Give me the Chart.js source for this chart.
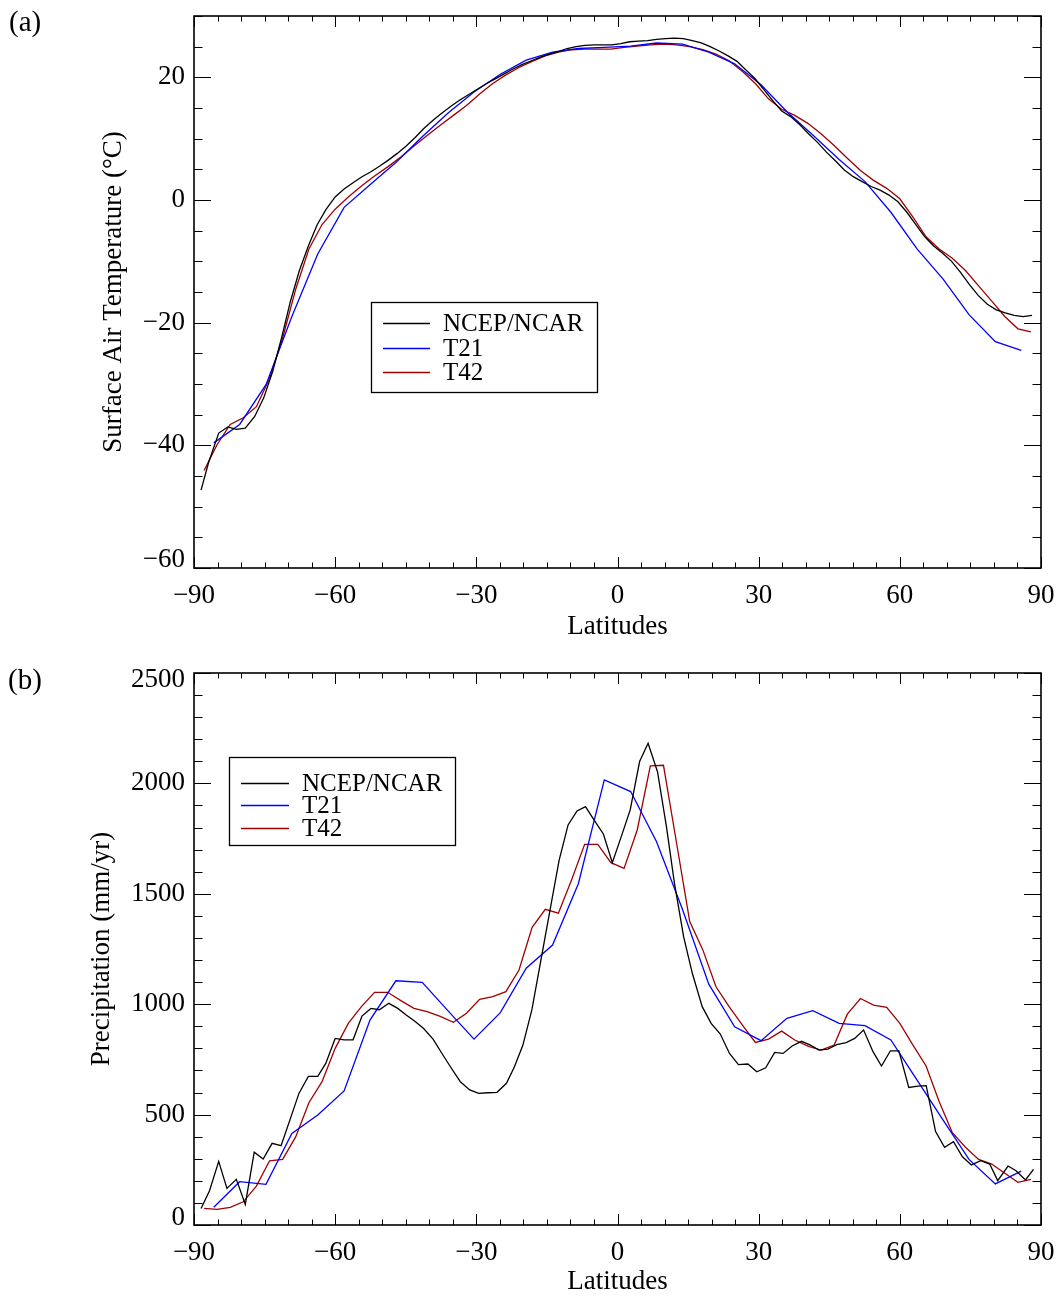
<!DOCTYPE html>
<html><head><meta charset="utf-8">
<script src="https://cdn.jsdelivr.net/npm/chart.js@4.4.0/dist/chart.umd.min.js"></script>
<style>
html,body{margin:0;padding:0;background:#fff;}
#wrap{position:relative;width:1063px;height:1296px;overflow:hidden;}
.cv{position:absolute;left:0;width:1063px;height:648px;}
.lbl{position:absolute;font-family:"Liberation Serif",serif;font-size:29px;line-height:1;color:#000;}
</style></head><body>
<div id="wrap">
<div class="cv" style="top:0"><canvas id="ca" width="1063" height="648"></canvas></div>
<div class="cv" style="top:648px"><canvas id="cb" width="1063" height="648"></canvas></div>
<div class="lbl" style="left:9px;top:7px">(a)</div>
<div class="lbl" style="left:8px;top:665px">(b)</div>
</div>
<script>
// ---------- shared ----------
const seriesNames = ['NCEP/NCAR', 'T21', 'T42'];
const latTicks = [-90, -60, -30, 0, 30, 60, 90];
const tempTicks = [-60, -40, -20, 0, 20];
const precipTicks = [0, 500, 1000, 1500, 2000, 2500];

// ---------- panel (a): surface air temperature ----------
const latNcepA = [-88.5,-86.9,-84.75,-82.8,-81.0,-79.1,-77.1,-75.2,-73.3,-71.4,-69.5,-67.6,-65.7,-63.8,-61.9,-60.0,-58.1,-56.2,-54.3,-52.4,-50.6,-48.7,-46.8,-44.9,-43.0,-41.1,-39.2,-37.3,-35.4,-33.5,-31.6,-29.7,-27.8,-25.9,-24.0,-22.1,-20.2,-18.3,-16.4,-14.5,-12.6,-10.7,-8.8,-6.9,-5.0,-3.1,-1.2,0.7,2.6,4.5,6.4,8.3,10.2,12.1,14.0,15.9,17.8,19.7,21.6,23.5,25.4,27.3,29.2,31.1,33.0,34.9,36.8,38.7,40.6,42.5,44.4,46.3,48.2,50.1,52.0,53.9,55.8,57.7,59.6,61.5,63.4,65.3,67.2,69.1,71.0,72.9,74.8,76.7,78.6,80.5,82.4,84.3,86.2,88.1];
const tempNcep = [-47.3,-42.8,-38.0,-37.0,-37.4,-37.2,-35.3,-32.3,-28.0,-22.5,-16.5,-11.5,-7.5,-4.0,-1.5,0.5,1.8,2.8,3.8,4.6,5.5,6.5,7.6,8.8,10.2,11.7,13.0,14.2,15.3,16.3,17.2,18.1,19.0,19.8,20.6,21.4,22.1,22.7,23.3,23.8,24.2,24.7,25.0,25.2,25.3,25.3,25.3,25.5,25.8,25.9,26.0,26.2,26.3,26.4,26.3,26.0,25.6,25.0,24.3,23.5,22.6,21.2,19.8,18.0,16.2,14.5,13.6,12.3,10.8,9.4,7.8,6.4,4.9,3.8,3.0,2.2,1.6,0.8,-0.3,-2.0,-4.0,-6.0,-7.5,-8.7,-10.0,-11.8,-13.8,-15.6,-17.0,-17.9,-18.4,-18.8,-19.0,-18.8];

const latT21 = [-85.8,-80.3,-74.7,-69.2,-63.7,-58.1,-52.6,-47.1,-41.5,-36.0,-30.5,-24.9,-19.4,-13.8,-8.3,-2.8,2.8,8.3,13.8,19.4,24.9,30.5,36.0,41.5,47.1,52.6,58.1,63.7,69.2,74.7,80.3,85.8];
const tempT21 = [-39.6,-36.6,-30.1,-19.0,-8.8,-1.2,2.5,6.1,10.3,14.2,17.6,20.5,22.8,24.1,24.7,24.9,25.1,25.6,25.4,24.1,22.2,18.8,14.4,10.6,6.6,3.0,-2.0,-8.0,-12.9,-18.7,-23.1,-24.5];

const latT42 = [-87.86,-85.10,-82.31,-79.53,-76.74,-73.95,-71.16,-68.37,-65.58,-62.79,-60.00,-57.21,-54.42,-51.63,-48.84,-46.04,-43.25,-40.46,-37.67,-34.88,-32.09,-29.30,-26.51,-23.72,-20.93,-18.14,-15.35,-12.56,-9.77,-6.98,-4.19,-1.40,1.40,4.19,6.98,9.77,12.56,15.35,18.14,20.93,23.72,26.51,29.30,32.09,34.88,37.67,40.46,43.25,46.04,48.84,51.63,54.42,57.21,60.00,62.79,65.58,68.37,71.16,73.95,76.74,79.53,82.31,85.10,87.86];
const tempT42 = [-44.1,-39.9,-36.6,-35.5,-33.7,-29.1,-22.5,-14.5,-8.0,-4.0,-1.5,0.5,2.3,3.9,5.4,7.0,8.8,10.5,12.2,13.8,15.4,17.3,19.0,20.4,21.6,22.6,23.5,24.1,24.5,24.6,24.6,24.6,24.9,25.1,25.3,25.4,25.3,25.0,24.5,23.8,22.7,21.0,19.0,16.5,14.8,13.8,12.5,10.8,8.9,6.8,4.8,3.2,1.9,0.2,-2.8,-6.0,-8.0,-9.5,-11.5,-14.0,-16.5,-19.0,-21.0,-21.5];

// ---------- panel (b): precipitation ----------
const latNcepB = [-88.5,-86.7,-84.75,-83.0,-81.0,-79.1,-77.2,-75.3,-73.4,-71.5,-69.5,-67.7,-65.7,-63.7,-62.0,-60.0,-58.1,-56.2,-54.3,-52.4,-50.6,-48.6,-46.7,-44.9,-43.0,-41.2,-39.2,-37.1,-35.3,-33.4,-31.4,-29.5,-27.5,-25.6,-23.6,-21.9,-20.1,-18.2,-16.4,-14.4,-12.4,-10.5,-8.6,-6.8,-4.9,-3.0,-1.1,0.8,2.7,4.7,6.5,8.5,10.4,12.1,14.05,15.9,18.0,19.9,21.85,23.8,25.7,27.7,29.6,31.5,33.4,35.2,37.1,39.1,41.0,42.8,44.7,46.6,48.6,50.4,52.3,54.3,56.1,58.0,59.8,61.9,63.85,65.6,67.6,69.5,71.4,73.3,75.2,77.2,79.1,80.8,83.0,84.7,86.7,88.4];
const precipNcep = [75,155,288,166,207,93,330,299,370,359,483,596,673,673,732,845,838,839,946,981,975,1004,981,951,922,890,842,770,710,649,612,596,599,601,642,717,815,974,1185,1419,1653,1812,1875,1895,1831,1771,1641,1759,1880,2099,2182,2053,1804,1548,1306,1140,989,913,865,777,726,729,694,712,782,777,811,832,815,792,797,817,826,845,883,785,720,789,789,623,629,631,423,352,377,309,272,291,276,201,267,246,204,252];

const precipT21 = [80,196,184,415,498,607,928,1106,1099,970,842,962,1163,1268,1547,2016,1963,1736,1430,1091,898,835,936,971,913,903,838,655,475,297,186,244];

const precipT42 = [75,71,80,105,176,291,297,400,554,649,800,913,989,1054,1054,1016,981,966,945,918,959,1022,1034,1057,1155,1348,1430,1412,1563,1724,1724,1641,1615,1789,2079,2082,1729,1374,1246,1079,989,906,827,842,878,838,810,792,815,955,1026,996,986,913,815,720,558,418,352,297,276,234,193,207];

// ---------- styling ----------
const colors = ['#000000', '#0000ff', '#a00000'];
const SERIF = '"Liberation Serif", "Times New Roman", serif';

function pts(xs, ys) { return xs.map((x, i) => ({ x: x, y: ys[i] })); }
function fmt(v) { return v < 0 ? '\u2212' + Math.abs(v) : String(v); }

const framePlugin = {
  id: 'frame',
  beforeDraw(chart, args, o) {
    // keep edge tick labels inside the plot box (as in the original)
    const ys = chart.scales.y;
    const items = ys.getLabelItems();
    if (items._shifted) return;
    items.forEach((it, i) => {
      const t = ys.ticks[i];
      if (!t) return;
      if (t.value === ys.min) it.options.translation[1] -= o.edgeShift;
      if (t.value === ys.max) it.options.translation[1] += o.edgeShift;
    });
    items._shifted = true;
  },
  afterDatasetsDraw(chart, args, o) {
    const ctx = chart.ctx, a = chart.chartArea;
    const xs = chart.scales.x, ys = chart.scales.y;
    ctx.save();
    ctx.strokeStyle = '#000';
    ctx.lineWidth = 1;
    for (let v = xs.min; v <= xs.max + 1e-9; v += o.xMinor) {
      const p = Math.round(xs.getPixelForValue(v)) + 0.5;
      const major = Math.abs(v % o.xMajor) < 1e-9;
      const L = major ? o.xLen : o.xLen / 2;
      ctx.beginPath();
      ctx.moveTo(p, a.bottom); ctx.lineTo(p, a.bottom - L);
      ctx.moveTo(p, a.top); ctx.lineTo(p, a.top + L);
      ctx.stroke();
    }
    for (let v = ys.min; v <= ys.max + 1e-9; v += o.yMinor) {
      const p = Math.round(ys.getPixelForValue(v)) + 0.5;
      const major = Math.abs((v - ys.min) % o.yMajor) < 1e-9;
      const L = major ? o.yLen : o.yLen / 2;
      ctx.beginPath();
      ctx.moveTo(a.left, p); ctx.lineTo(a.left + L, p);
      ctx.moveTo(a.right, p); ctx.lineTo(a.right - L, p);
      ctx.stroke();
    }
    ctx.lineWidth = 1.6;
    ctx.strokeRect(a.left, a.top, a.right - a.left, a.bottom - a.top);
    // legend box
    const g = o.legend;
    ctx.lineWidth = 1.3;
    ctx.strokeStyle = '#000';
    ctx.strokeRect(g.x + 0.5, g.y + 0.5, g.w, g.h);
    ctx.font = g.font;
    ctx.textBaseline = 'middle';
    ctx.textAlign = 'left';
    ctx.fillStyle = '#000';
    chart.data.datasets.forEach((ds, i) => {
      const yy = Math.round(g.y + g.row0 + i * g.rowH) + 0.5;
      ctx.strokeStyle = ds.borderColor;
      ctx.lineWidth = ds.borderWidth;
      ctx.beginPath();
      ctx.moveTo(g.x + g.l0, yy); ctx.lineTo(g.x + g.l1, yy);
      ctx.stroke();
      ctx.fillText(ds.label, g.x + g.tx, yy + 1);
    });
    ctx.restore();
  }
};

function makeChart(id, cfg) {
  const datasets = cfg.series.map((s, i) => ({
    label: seriesNames[i],
    data: pts(s[0], s[1]),
    borderColor: colors[i],
    borderWidth: 1.3,
    pointRadius: 0,
    tension: 0,
    fill: false
  }));
  return new Chart(document.getElementById(id), {
    type: 'line',
    data: { datasets: datasets },
    options: {
      responsive: false,
      animation: false,
      events: [],
      layout: { padding: { top: cfg.top, right: 22, left: 0, bottom: 0 } },
      plugins: {
        legend: { display: false },
        tooltip: { enabled: false },
        frame: cfg.frame
      },
      scales: {
        x: {
          type: 'linear', min: -90, max: 90,
          grid: { display: false, drawTicks: false },
          border: { display: false },
          afterBuildTicks: s => { s.ticks = latTicks.map(v => ({ value: v })); },
          afterFit: s => { s.height = cfg.xh; s.paddingLeft = 0; s.paddingRight = 0; },
          ticks: { color: '#000', font: { family: SERIF, size: 27 }, padding: cfg.xtp, maxRotation: 0, autoSkip: false, callback: v => fmt(v) },
          title: { display: true, text: 'Latitudes', color: '#000', font: { family: SERIF, size: 27, lineHeight: 1 }, padding: { top: 0, bottom: cfg.xtitlePad } }
        },
        y: {
          type: 'linear', min: cfg.ymin, max: cfg.ymax,
          grid: { display: false, drawTicks: false },
          border: { display: false },
          afterBuildTicks: s => { s.ticks = cfg.yticks.map(v => ({ value: v })); },
          afterFit: s => { s.width = 194; s.paddingTop = 0; s.paddingBottom = 0; },
          ticks: { color: '#000', font: { family: SERIF, size: 27 }, padding: 9, autoSkip: false, callback: v => fmt(v) },
          title: { display: true, text: cfg.ytitle, color: '#000', font: { family: SERIF, size: 27, lineHeight: 1 }, padding: { top: cfg.ytitlePad, bottom: 0 } }
        }
      }
    },
    plugins: [framePlugin]
  });
}

makeChart('ca', {
  series: [[latNcepA, tempNcep], [latT21, tempT21], [latT42, tempT42]],
  top: 16, xh: 80, xtp: 12, xtitlePad: 8,
  ymin: -60, ymax: 30, yticks: tempTicks,
  ytitle: 'Surface Air Temperature (\u00B0C)', ytitlePad: 100,
  frame: { xMinor: 5, xMajor: 30, xLen: 11, yMinor: 5, yMajor: 20, yLen: 17, edgeShift: 8,
           legend: { x: 371, y: 302, w: 226, h: 90, row0: 21, rowH: 24.5, l0: 12, l1: 59, tx: 72, font: '25px ' + SERIF } }
});

makeChart('cb', {
  series: [[latNcepB, precipNcep], [latT21, precipT21], [latT42, precipT42]],
  top: 25, xh: 71, xtp: 12, xtitlePad: 1,
  ymin: 0, ymax: 2500, yticks: precipTicks,
  ytitle: 'Precipitation (mm/yr)', ytitlePad: 88,
  frame: { xMinor: 5, xMajor: 30, xLen: 11, yMinor: 100, yMajor: 500, yLen: 17, edgeShift: 7,
           legend: { x: 229, y: 109, w: 226, h: 88, row0: 26, rowH: 22.3, l0: 12, l1: 60, tx: 73, font: '25px ' + SERIF } }
});
</script>
</body></html>
